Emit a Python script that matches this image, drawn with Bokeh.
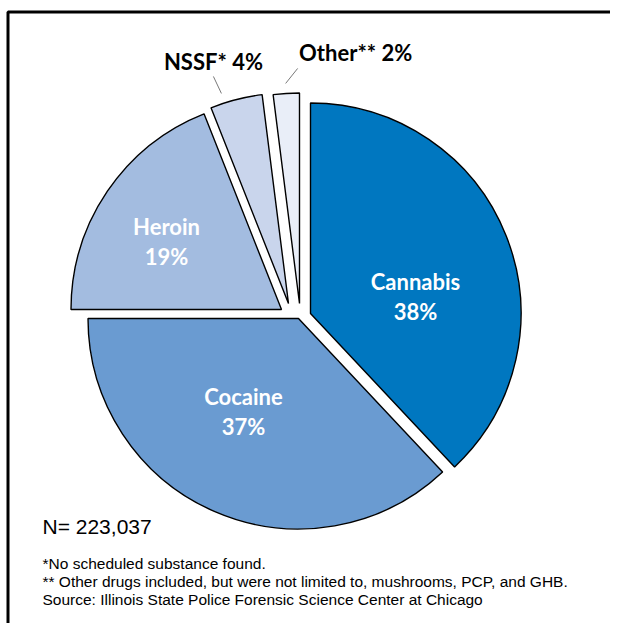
import math
from bokeh.plotting import figure
from bokeh.models import Range1d
from bokeh.core.properties import value
from bokeh.embed import file_html
from bokeh.resources import INLINE

# ---------------- data ----------------
categories = ["Cannabis", "Cocaine", "Heroin", "NSSF*", "Other**"]
percent = [38, 37, 19, 4, 2]
colors = ["#0077C0", "#6A9BD1", "#A3BCE0", "#C9D5EC", "#E9EEF8"]
n_label = "N= 223,037"
footnotes = [
    "*No scheduled substance found.",
    "** Other drugs included, but were not limited to, mushrooms, PCP, and GHB.",
    "Source: Illinois State Police Forensic Science Center at Chicago",
]

# ---------------- layout / style (picture pixels) ----------------
W, H = 610, 623
CX, CY, R = 300, 311, 210.5
EXPLODE = {"Cannabis": (10, 2), "Cocaine": (-2, 7), "Heroin": (-19, -2),
           "NSSF*": (-12, -8), "Other**": (-1, -8)}
INNER_LABEL = {"Cannabis": (105, -17), "Cocaine": (-55, 93), "Heroin": (-115, -68)}
OUTER_LABEL = {"NSSF*": (0.27, (-8, -17), (0, -15)),
               "Other**": (0.5, (12, -15), (58, -16))}
FONT = "Lato"
NOTE_FONT = "Liberation Sans"


def px(x):
    return x


def py(y):
    return H - y


p = figure(width=W, height=H, x_range=Range1d(0, W), y_range=Range1d(0, H),
           output_backend="svg", toolbar_location=None, min_border=0)
p.axis.visible = False
p.grid.visible = False
p.outline_line_color = None
p.background_fill_color = "white"
p.border_fill_color = "white"

# frame (left & top edges visible)
p.line(x=[px(7.5), px(7.5), W + 5], y=[-5, py(11.5), py(11.5)],
       line_color="black", line_width=3)

total = float(sum(percent))
cum = 0.0
for cat, v, col in zip(categories, percent, colors):
    a0 = cum / total * 360.0
    a1 = (cum + v) / total * 360.0
    cum += v
    dx, dy = EXPLODE[cat]
    ax, ay = CX + dx, CY + dy
    p.wedge(x=[px(ax)], y=[py(ay)], radius=R, start_angle=90 - a1,
            end_angle=90 - a0, start_angle_units="deg", end_angle_units="deg",
            fill_color=col, line_color="black", line_width=1.4)
    if cat in INNER_LABEL:
        ox, oy = INNER_LABEL[cat]
        lx, ly = ax + ox, ay + oy
        p.text(x=[px(lx), px(lx)], y=[py(ly - 15), py(ly + 15)],
               text=[cat, f"{v}%"], text_color="white",
               text_font=value(FONT), text_font_style="bold",
               text_font_size="22px", text_align="center",
               text_baseline="middle")
    if cat in OUTER_LABEL:
        frac, (ldx, ldy), (tdx, tdy) = OUTER_LABEL[cat]
        ang = math.radians(a0 + frac * (a1 - a0))
        sx = ax + (R + 10) * math.sin(ang)
        sy = ay - (R + 10) * math.cos(ang)
        ex, ey = sx + ldx, sy + ldy
        p.segment(x0=[px(sx)], y0=[py(sy)], x1=[px(ex)], y1=[py(ey)],
                  line_color="#555555", line_width=0.8)
        p.text(x=[px(ex + tdx)], y=[py(ey + tdy)], text=[f"{cat} {v}%"],
               text_color="black", text_font=value(FONT),
               text_font_style="bold", text_font_size="22px",
               text_align="center", text_baseline="middle")

p.text(x=[px(42)], y=[py(526)], text=[n_label], text_color="black",
       text_font=value(NOTE_FONT), text_font_size="21px",
       text_align="left", text_baseline="middle")
p.text(x=[px(42)] * len(footnotes), y=[py(563), py(581), py(599)],
       text=footnotes, text_color="black",
       text_font=value(NOTE_FONT), text_font_size="15.5px",
       text_align="left", text_baseline="middle")

open("out.html", "w").write(file_html(p, INLINE))
